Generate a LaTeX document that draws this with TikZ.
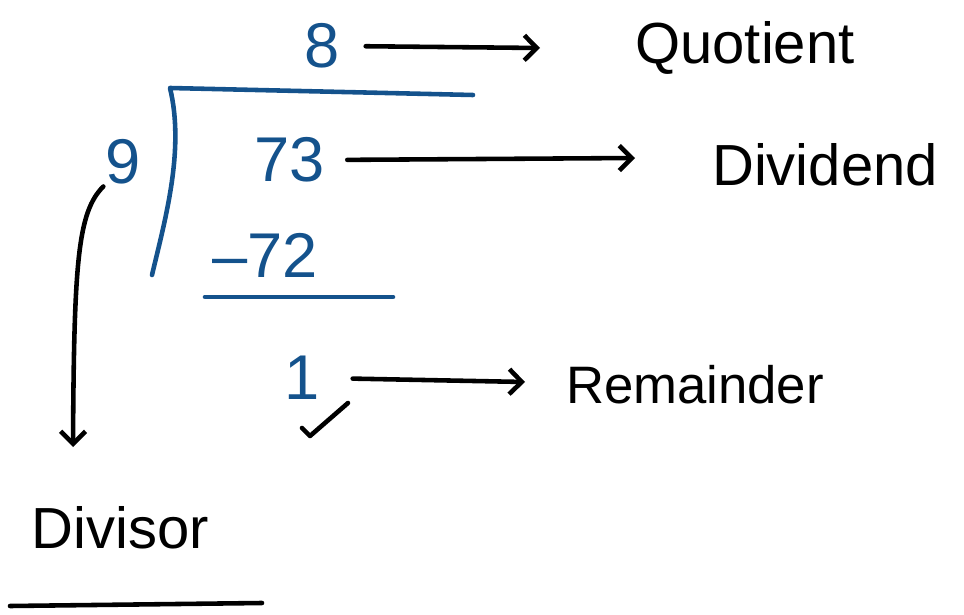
\documentclass[tikz,border=0pt]{standalone}
\usepackage{fontspec}
\setmainfont{Liberation Sans}
\usetikzlibrary{arrows.meta, positioning}
\definecolor{inkblue}{RGB}{20, 82, 140}

\begin{document}
\begin{tikzpicture}[x=0.02cm, y=-0.02cm,
  digit/.style={inkblue, font=\fontsize{36}{42}\selectfont, inner sep=1pt},
  word/.style={font=\fontsize{33}{40}\selectfont, inner sep=1pt},
  pen/.style={line width=2.6pt, line cap=round, line join=round},
  arr/.style={pen, -{Straight Barb[length=2.5mm, width=5mm]}}]
  \useasboundingbox (0,0) rectangle (964,615);
  % the long division 73 / 9
  \node[digit] (quot) at (322,46) {8};
  \node[digit] (dvsr) at (123,162) {9};
  \node[digit] (dvnd) at (290,160) {73};
  \node[digit] (prod) at (265,255) {–72};
  \node[digit] (rem) at (302,378) {1};
  \draw[pen, inkblue] (473,95) -- (170,88) .. controls (185,150) and (165,220) .. (152,275);
  \draw[pen, inkblue] (205,297) -- (393,297);
  % names of the parts
  \node[word] (lquot) at (745,48) {Quotient};
  \node[word] (ldvnd) at (825,165) {Dividend};
  \node[word, font=\fontsize{30}{36}\selectfont] (lrem) at (695,385) {Remainder};
  \node[word] (ldvsr) at (120,528) {Divisor};
  \coordinate (tquot) at (540,48);
  \coordinate (tdvnd) at (635,158);
  \coordinate (trem) at (525,382);
  \coordinate (tdvsr) at (73,447);
  \draw[arr, shorten <=0.48cm] (quot.east) -- (tquot);
  \draw[arr, shorten <=0.4cm] (dvnd.east) -- (tdvnd);
  \draw[arr, shorten <=0.62cm] (rem.east) -- (trem);
  \draw[arr] (dvsr.south west) .. controls (78,212) and (74,260) .. (tdvsr);
  % tick and underline
  \draw[pen] (302,428) -- (310,436) -- (348,403);
  \draw[pen] (10,606) -- (262,603);
\end{tikzpicture}
\end{document}
